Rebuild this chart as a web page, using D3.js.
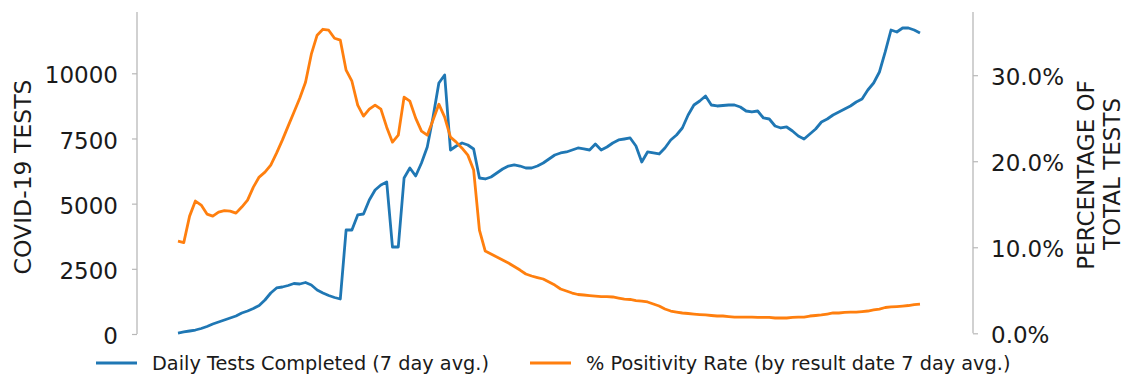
<!DOCTYPE html>
<html><head><meta charset="utf-8">
<script src="https://cdn.jsdelivr.net/npm/d3@7"></script>
<style>
html,body{margin:0;padding:0;background:#fff;}
text{font-family:"DejaVu Sans",sans-serif;fill:#1a1a1a;}
</style></head>
<body><svg id="c" width="1137" height="379"></svg>
<script>
// Day index (0..128) for each daily value
const dailyTests = [38,77,115,153,211,288,384,460,537,614,691,806,882,978,1093,1304,1573,1765,1803,1860,1937,1918,1976,1880,1688,1573,1477,1400,1343,3989,3989,4565,4603,5140,5524,5716,5831,3337,3337,5984,6368,6061,6560,7173,8324,9628,9935,7058,7212,7327,7250,7097,5984,5946,6023,6176,6329,6444,6483,6444,6368,6368,6444,6560,6713,6866,6943,6982,7058,7135,7097,7058,7288,7058,7173,7327,7442,7480,7519,7212,6598,6982,6943,6905,7135,7442,7634,7902,8401,8784,8938,9130,8784,8746,8765,8784,8784,8708,8554,8516,8554,8286,8247,7979,7902,7941,7787,7595,7480,7672,7864,8132,8247,8401,8516,8631,8746,8900,9015,9360,9628,10050,10818,11661,11585,11738,11738,11661,11546];
const positivity = [10.72,10.55,13.62,15.37,14.90,13.86,13.62,14.09,14.26,14.20,13.97,14.67,15.48,16.99,18.16,18.73,19.55,20.94,22.45,24.08,25.70,27.33,29.19,32.44,34.65,35.34,35.23,34.30,34.07,30.58,29.30,26.52,25.24,26.05,26.52,26.05,23.96,22.22,23.03,27.45,26.98,25.01,23.50,23.03,24.78,26.63,25.12,22.80,22.22,21.52,20.71,18.97,12.00,9.56,9.21,8.86,8.51,8.17,7.76,7.35,6.89,6.66,6.48,6.31,5.96,5.61,5.15,4.92,4.68,4.51,4.45,4.39,4.33,4.27,4.27,4.22,4.10,3.98,3.93,3.81,3.75,3.64,3.40,3.17,2.82,2.59,2.47,2.36,2.30,2.24,2.18,2.13,2.07,2.01,2.01,1.95,1.89,1.89,1.89,1.89,1.84,1.84,1.84,1.78,1.78,1.78,1.84,1.89,1.89,2.01,2.07,2.13,2.24,2.36,2.36,2.42,2.47,2.47,2.53,2.59,2.71,2.82,3.00,3.06,3.11,3.17,3.23,3.34,3.40];
const leftTicks = [0,2500,5000,7500,10000];
const rightTicks = [0,10,20,30];
const leftLabel = "COVID-19 TESTS";
const rightLabelLines = ["PERCENTAGE OF","TOTAL TESTS"];
const legendLabels = ["Daily Tests Completed (7 day avg.)","% Positivity Rate (by result date 7 day avg.)"];
const colors = ["#1f77b4","#ff7f0e"];

const svg = d3.select("#c");
const days = d3.range(dailyTests.length);
const x = d3.scaleLinear().domain([0, days.length-1]).range([178, 920]);
const yL = d3.scaleLinear().domain([0, 10000]).range([334, 73.3]);
const yR = d3.scaleLinear().domain([0, 30]).range([333.3, 75.2]);
const spineTop = 12;
const spineColor = "#b8b8b8";

// left axis
const gL = svg.append("g").attr("transform","translate(137,0)")
  .call(d3.axisLeft(yL).tickValues(leftTicks).tickSize(5).tickPadding(14).tickFormat(d3.format("d")));
gL.select(".domain").remove();
gL.selectAll(".tick line").attr("stroke",spineColor).attr("stroke-width",1.2);
gL.selectAll(".tick text").attr("font-size",23).attr("fill","#1a1a1a").attr("dy","0.42em");
svg.append("line").attr("x1",137).attr("x2",137).attr("y1",spineTop).attr("y2",yL(0))
  .attr("stroke",spineColor).attr("stroke-width",1.3);

// right axis
const gR = svg.append("g").attr("transform","translate(973,0)")
  .call(d3.axisRight(yR).tickValues(rightTicks).tickSize(5).tickPadding(13).tickFormat(d => d.toFixed(1)+"%"));
gR.select(".domain").remove();
gR.selectAll(".tick line").attr("stroke",spineColor).attr("stroke-width",1.2);
gR.selectAll(".tick text").attr("font-size",23).attr("fill","#1a1a1a").attr("dy","0.42em");
svg.append("line").attr("x1",973).attr("x2",973).attr("y1",spineTop).attr("y2",yR(0))
  .attr("stroke",spineColor).attr("stroke-width",1.3);

// axis titles
svg.append("text").attr("transform","translate(31,177) rotate(-90)")
  .attr("text-anchor","middle").attr("font-size",23.5).text(leftLabel);
rightLabelLines.forEach((t,i)=>{
  svg.append("text").attr("transform",`translate(${1094+i*26},${175-i}) rotate(-90)`)
    .attr("text-anchor","middle").attr("font-size",23).text(t);
});

// lines
const lineL = d3.line().x((d,i)=>x(i)).y(d=>yL(d));
const lineR = d3.line().x((d,i)=>x(i)).y(d=>yR(d));
svg.append("path").datum(dailyTests).attr("d",lineL).attr("fill","none")
  .attr("stroke",colors[0]).attr("stroke-width",2.8).attr("stroke-linejoin","round");
svg.append("path").datum(positivity).attr("d",lineR).attr("fill","none")
  .attr("stroke",colors[1]).attr("stroke-width",2.8).attr("stroke-linejoin","round");

// legend
const legX = [96, 530];
legendLabels.forEach((t,i)=>{
  svg.append("line").attr("x1",legX[i]).attr("x2",legX[i]+41).attr("y1",363).attr("y2",363)
    .attr("stroke",colors[i]).attr("stroke-width",2.8);
  svg.append("text").attr("x",legX[i]+56).attr("y",363).attr("dy","0.36em")
    .attr("font-size",19.3).text(t);
});
</script></body></html>
